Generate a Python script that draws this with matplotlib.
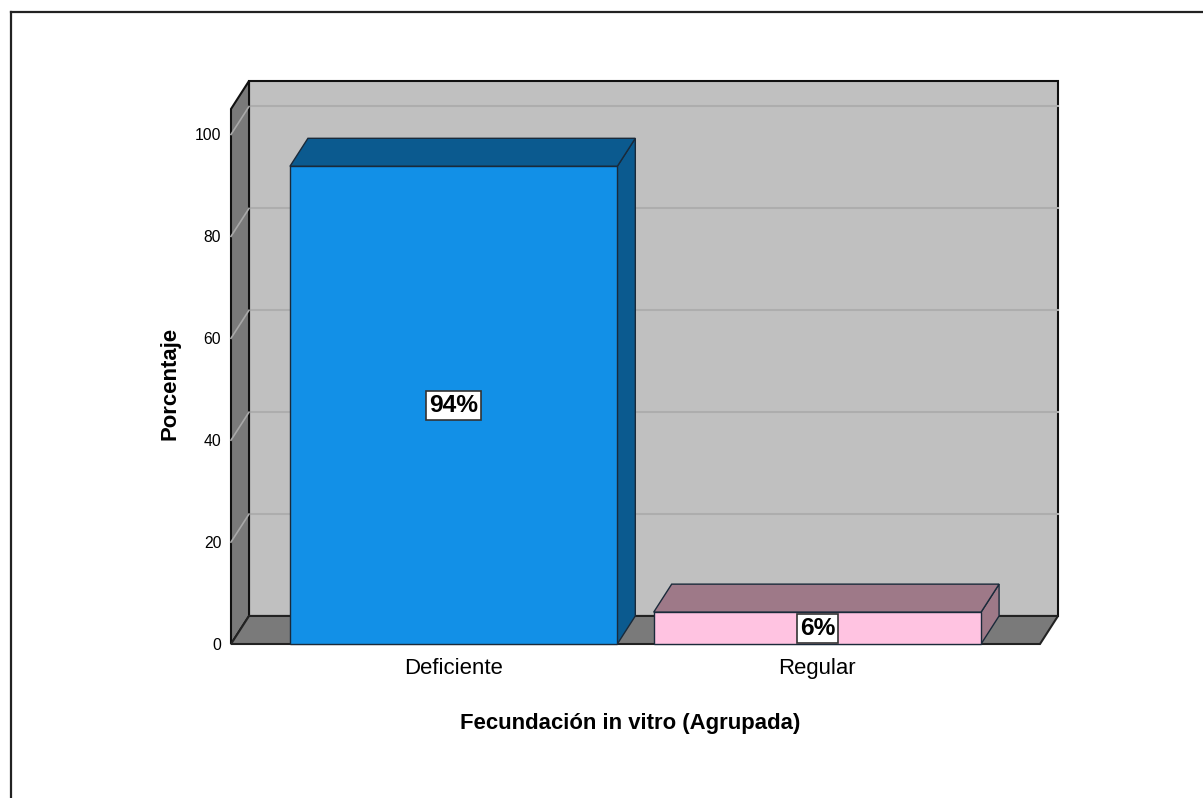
import matplotlib
matplotlib.use("Agg")
import matplotlib.pyplot as plt
from matplotlib.patches import Polygon, Rectangle
from matplotlib.lines import Line2D
from matplotlib import font_manager

categories = ['Deficiente', 'Regular']
percentages = [93.75, 6.25]
y_ticks = [0, 20, 40, 60, 80, 100]

front_colors = ['#1290E7', '#FFC3E1']
shade_colors = ['#0B5A8F', '#9E7988']

# fuente estrecha tipo SPSS si existe
names = {f.name for f in font_manager.fontManager.ttflist}
if 'Liberation Sans Narrow' in names:
    fam = 'Liberation Sans Narrow'
    k = 1.0
else:
    fam = 'Liberation Sans'
    k = 0.84
plt.rcParams['font.family'] = [fam, 'DejaVu Sans']

fig = plt.figure(figsize=(12.03, 7.98), dpi=100)
ax = fig.add_axes([231 / 1203, (798 - 644) / 798, 809 / 1203, 535 / 798])
ax.set_xlim(-0.612, 1.612)
ax.set_ylim(0, 105)

dx, dy = 0.0495, 5.5  # profundidad
x0, x1 = -0.612, 1.612
ytop = 105
bw = 0.9

# pared del fondo
ax.add_patch(Rectangle((x0 + dx, dy), x1 - x0, ytop, facecolor='#C0C0C0',
                       edgecolor='#111111', lw=1.5, clip_on=False, zorder=1))
for t in y_ticks[1:]:
    ax.add_line(Line2D([x0 + dx, x1 + dx], [t + dy, t + dy], color='#ADADAD',
                       lw=1.5, clip_on=False, zorder=2))
# pared lateral
ax.add_patch(Polygon([(x0, 0), (x0, ytop), (x0 + dx, ytop + dy), (x0 + dx, dy)],
                     facecolor='#7A7A7A', edgecolor='#111111', lw=1.5,
                     clip_on=False, zorder=3))
for t in y_ticks[1:]:
    ax.add_line(Line2D([x0, x0 + dx], [t, t + dy], color='#A8A8A8', lw=1.2,
                       clip_on=False, zorder=4))
# piso
ax.add_patch(Polygon([(x0, 0), (x1, 0), (x1 + dx, dy), (x0 + dx, dy)],
                     facecolor='#7A7A7A', edgecolor='#222222', lw=1.5,
                     clip_on=False, zorder=3))

for i, v in enumerate(percentages):
    l, r = i - bw / 2, i + bw / 2
    ax.add_patch(Polygon([(r, 0), (r + dx, dy), (r + dx, v + dy), (r, v)],
                         facecolor=shade_colors[i], edgecolor='#1a2a3a', lw=1,
                         clip_on=False, zorder=5))
    ax.add_patch(Polygon([(l, v), (r, v), (r + dx, v + dy), (l + dx, v + dy)],
                         facecolor=shade_colors[i], edgecolor='#1a2a3a', lw=1,
                         clip_on=False, zorder=5))
    ax.add_patch(Rectangle((l, 0), bw, v, facecolor=front_colors[i],
                           edgecolor='#1a2a3a', lw=1, clip_on=False, zorder=6))
    ax.text(i, v / 2, f'{v:.0f}%', ha='center', va='center', fontsize=21 * k,
            fontweight='bold', zorder=8,
            bbox=dict(boxstyle='square,pad=0.12', facecolor='white',
                      edgecolor='#333333', lw=1.2))

ax.set_xticks(range(len(categories)))
ax.set_xticklabels(categories, fontsize=19 * k)
ax.set_yticks(y_ticks)
ax.set_yticklabels([str(t) for t in y_ticks], fontsize=13.5 * k)
ax.tick_params(length=0)
ax.tick_params(axis='x', pad=10)
ax.tick_params(axis='y', pad=7)
for s in ax.spines.values():
    s.set_visible(False)
ax.patch.set_visible(False)

fig.text(630 / 1203, 1 - 724 / 798, 'Fecundación in vitro (Agrupada)',
         ha='center', va='center', fontsize=19 * k, fontweight='bold')
fig.text(170 / 1203, 1 - 383 / 798, 'Porcentaje', ha='center', va='center',
         rotation=90, fontsize=19 * k, fontweight='bold')

# marco exterior
fig.add_artist(Line2D([10.5 / 1203, 10.5 / 1203], [0, 1 - 11.5 / 798],
                      color='#222222', lw=1.6))
fig.add_artist(Line2D([10.5 / 1203, 1], [1 - 11.5 / 798, 1 - 11.5 / 798],
                      color='#222222', lw=1.6))

fig.savefig('out.png', dpi=100)
